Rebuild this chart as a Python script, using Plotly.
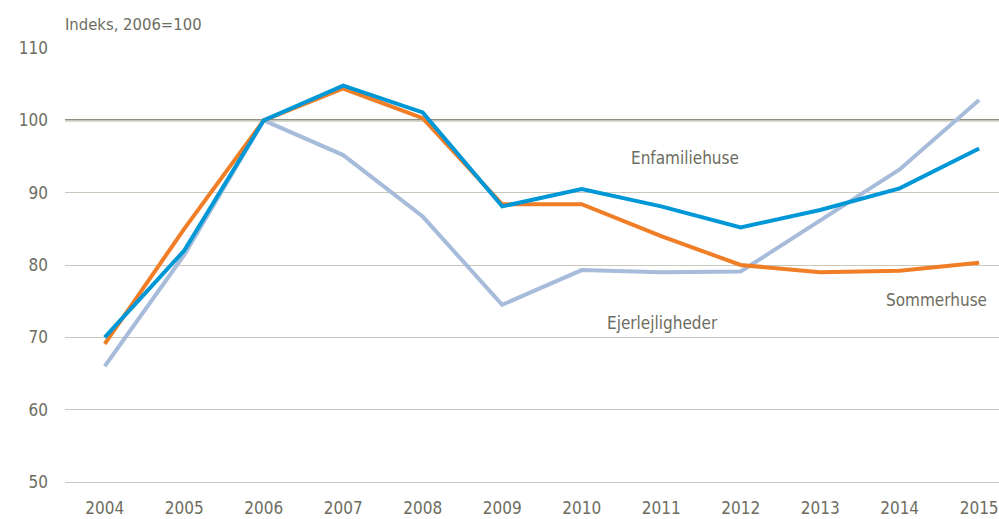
import plotly.graph_objects as go

years = list(range(2004, 2016))
enfamiliehuse = [70.0, 82.0, 100.0, 104.8, 101.1, 88.1, 90.5, 88.1, 85.2, 87.6, 90.6, 96.1]
sommerhuse = [69.1, 85.0, 100.0, 104.4, 100.3, 88.4, 88.4, 84.0, 80.0, 79.0, 79.2, 80.3]
ejerlejligheder = [66.0, 81.4, 100.0, 95.2, 86.7, 74.5, 79.3, 79.0, 79.1, 86.2, 93.2, 102.8]
y_ticks = [50, 60, 70, 80, 90, 100, 110]

FONT = "Liberation Sans Narrow, Arial Narrow, DejaVu Sans Condensed, sans-serif"
TXT = "#6d6d5f"

fig = go.Figure()
fig.add_trace(go.Scatter(x=years, y=ejerlejligheder, mode="lines", name="Ejerlejligheder",
                         line=dict(color="#a6bcda", width=4)))
fig.add_trace(go.Scatter(x=years, y=sommerhuse, mode="lines", name="Sommerhuse",
                         line=dict(color="#f07e26", width=4)))
fig.add_trace(go.Scatter(x=years, y=enfamiliehuse, mode="lines", name="Enfamiliehuse",
                         line=dict(color="#0097d6", width=4)))

fig.add_shape(type="line", xref="paper", x0=0, x1=1, yref="y", y0=100, y1=100,
              line=dict(color="#6b6b59", width=2), layer="below")

fig.add_annotation(x=2011.3, y=94.75, text="Enfamiliehuse", showarrow=False,
                   font=dict(size=17, color=TXT, family=FONT))
fig.add_annotation(x=2011.02, y=72.0, text="Ejerlejligheder", showarrow=False,
                   font=dict(size=17, color=TXT, family=FONT))
fig.add_annotation(x=2015.13, y=75.1, xanchor="right", text="Sommerhuse", showarrow=False,
                   font=dict(size=17, color=TXT, family=FONT))
fig.add_annotation(xref="paper", yref="paper", x=0, y=1, xanchor="left", yanchor="bottom",
                   xshift=-2, yshift=12, text="Indeks, 2006=100", showarrow=False,
                   font=dict(size=16.5, color=TXT, family=FONT))

fig.update_layout(
    width=999, height=519,
    margin=dict(l=65, r=0, t=48, b=37, autoexpand=False),
    paper_bgcolor="white", plot_bgcolor="white",
    showlegend=False,
    font=dict(family=FONT, size=17, color=TXT),
    xaxis=dict(range=[2003.5, 2015.25], tickmode="array", tickvals=years,
               ticktext=[str(y) for y in years], showgrid=False, zeroline=False,
               showline=True, linecolor="#c8c8bd", linewidth=1, ticks="",
               automargin=False, ticklabelstandoff=11, ticklabeloverflow="allow",
               tickfont=dict(size=17, color=TXT, family=FONT)),
    yaxis=dict(range=[50, 110], tickmode="array", tickvals=y_ticks,
               showgrid=True, gridcolor="#c8c8bd", gridwidth=1, zeroline=False,
               ticks="", ticklabelstandoff=16, automargin=False,
               ticklabeloverflow="allow",
               tickfont=dict(size=17, color=TXT, family=FONT)),
)

fig.write_html(
    "out.html",
    config={"displayModeBar": False},
    post_script="document.body.style.margin='0';document.body.style.overflow='hidden';",
)
